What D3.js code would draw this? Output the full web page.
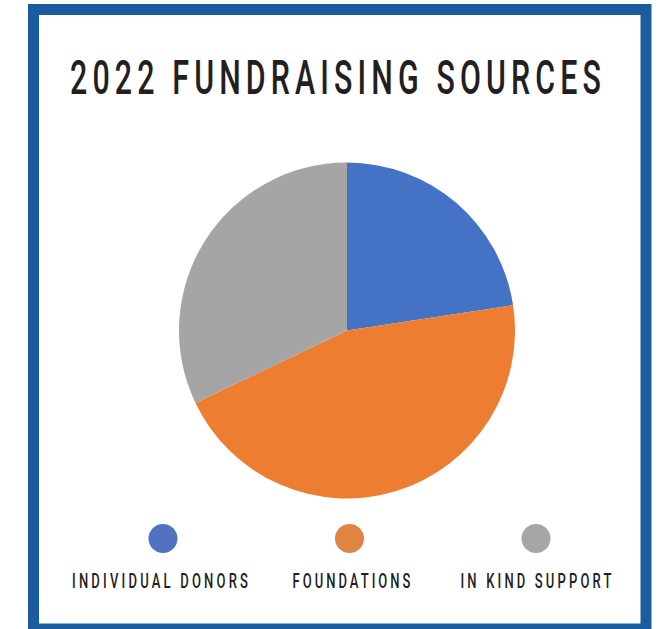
<!DOCTYPE html>
<html>
<head>
<meta charset="utf-8">
<script src="https://cdn.jsdelivr.net/npm/d3@7"></script>
<style>
  html, body { margin: 0; padding: 0; background: #ffffff; }
  svg { display: block; }
</style>
</head>
<body>
<svg id="chart" width="662" height="629"></svg>
<script>
const title = "2022 FUNDRAISING SOURCES";
const categories = ["INDIVIDUAL DONORS", "FOUNDATIONS", "IN KIND SUPPORT"];
const values = [22.6, 45.3, 32.1];
const colors = ["#4472C4", "#ED7D31", "#A5A5A5"];
const legendColors = ["#5072C0", "#E08444", "#A6A6A6"];

const svg = d3.select("#chart");
const W = 662, H = 629;

// frame
svg.append("rect")
  .attr("x", 33.5).attr("y", 9.5)
  .attr("width", 612.5).attr("height", 619.5)
  .attr("fill", "#ffffff")
  .attr("stroke", "#1B5C9E")
  .attr("stroke-width", 11);

const textColor = "#231F20";
const font = "Roboto, 'Open Sans', 'DejaVu Sans', sans-serif";
const sx = 0.62;

function condensedText(cx, baseline, str, size, width, weight) {
  const g = svg.append("g").attr("transform", `translate(${cx},${baseline}) scale(${sx},1)`);
  g.append("text")
    .attr("x", 0).attr("y", 0)
    .attr("text-anchor", "middle")
    .attr("font-family", font)
    .attr("font-size", size)
    .attr("font-weight", weight)
    .attr("fill", textColor)
    .attr("textLength", width / sx)
    .attr("lengthAdjust", "spacing")
    .text(str);
}

// title
condensedText((70 + 601) / 2, 94, title, 49, 531, 500);

// pie
const cx = 347, cy = 330.5, r = 168;
const pie = d3.pie().sort(null).value(d => d).startAngle(0).endAngle(2 * Math.PI);
const arc = d3.arc().innerRadius(0).outerRadius(r);
const color = d3.scaleOrdinal().domain(categories).range(colors);

svg.append("g")
  .attr("transform", `translate(${cx},${cy})`)
  .selectAll("path")
  .data(pie(values))
  .join("path")
  .attr("d", arc)
  .attr("fill", (d, i) => color(categories[i]));

// legend
const legendX = d3.scalePoint().domain(categories).range([163, 536]);
const legendTextCenters = [160, 351.5, 536];
const legendTextWidths = [176, 118, 151];
categories.forEach((c, i) => {
  svg.append("circle")
    .attr("cx", legendX(c)).attr("cy", 538.5)
    .attr("r", 14.5)
    .attr("fill", legendColors[i]);
  condensedText(legendTextCenters[i], 588, c, 21, legendTextWidths[i], 500);
});
</script>
</body>
</html>
